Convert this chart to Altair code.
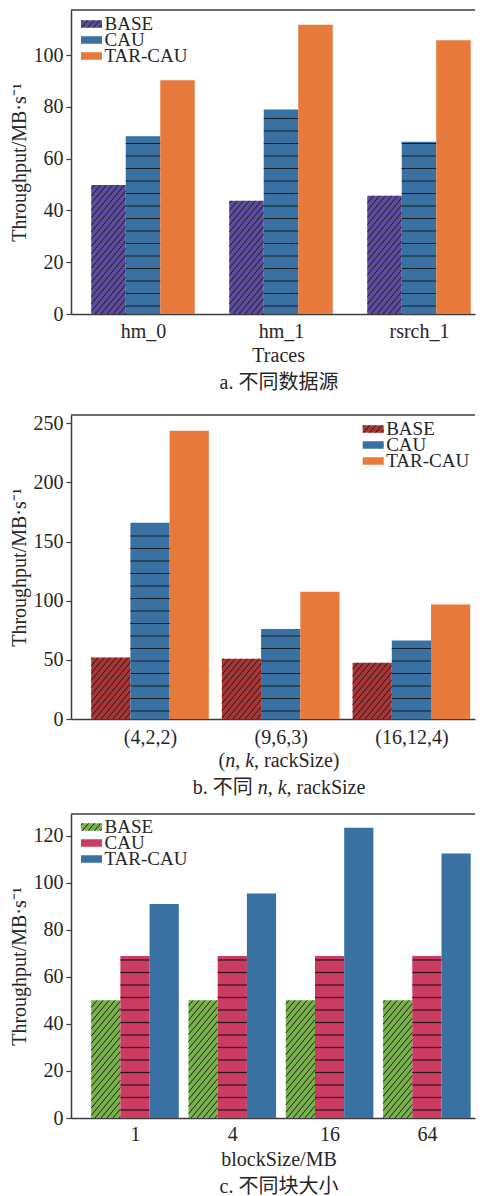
import json
import math
import altair as alt
import pandas as pd

SERIES = ["BASE", "CAU", "TAR-CAU"]

A_CATS = ["hm_0", "hm_1", "rsrch_1"]
A_BASE = [49.8, 43.7, 45.7]
A_CAU = [68.6, 79.0, 66.5]
A_TAR = [90.3, 111.7, 105.7]
A_TICKS = [0, 20, 40, 60, 80, 100]

B_CATS = ["(4,2,2)", "(9,6,3)", "(16,12,4)"]
B_BASE = [52.0, 51.0, 47.5]
B_CAU = [166.0, 76.0, 66.4]
B_TAR = [243.7, 107.5, 96.8]
B_TICKS = [0, 50, 100, 150, 200, 250]

C_CATS = ["1", "4", "16", "64"]
C_BASE = [50.0, 50.0, 50.0, 50.0]
C_CAU = [68.8, 68.8, 68.8, 68.8]
C_TAR = [91.0, 95.4, 123.4, 112.4]
C_TICKS = [0, 20, 40, 60, 80, 100, 120]

Y_TITLE = "Throughput/MB·s⁻¹"

W, H = 404, 304
FONT = "Liberation Serif, Noto Sans CJK SC, serif"
TXT = "#262626"
AXC = "#3c3c3c"
HATCH = "#141414"
SLOPE = 1.2
DIAG_SP = 6.0
HLINE_OFF = 8.0
HLINE_SP = 12.5

WID = {'(': .333, ')': .333, ',': .25, ' ': .25, '.': .25, 'a': .444, 'b': .5,
       'c': .444, 'e': .444, 'i': .278, 'k': .5, 'n': .5, 'r': .333, 's': .389,
       'z': .444, 'S': .556, 'T': .611, 'l': .278, 'o': .5, 'M': .889, 'B': .667,
       '/': .278}
WID_IT = {'n': .5, 'k': .444}


def text_width(t, ital, fs):
    w = 0.0
    for ch in t:
        if ord(ch) > 0x2e80:
            w += 1.0
        elif ital:
            w += WID_IT.get(ch, .5)
        else:
            w += WID.get(ch, .5)
    return w * fs


def diag(lpx, rpx, bot, top):
    out = []
    kmin = math.floor((lpx - top / SLOPE) / DIAG_SP) - 1
    kmax = math.ceil(rpx / DIAG_SP) + 1
    for k in range(kmin, kmax + 1):
        xc = k * DIAG_SP
        a = max(lpx, xc + bot / SLOPE)
        b = min(rpx, xc + top / SLOPE)
        if b - a > 0.4:
            out.append((a, SLOPE * (a - xc), b, SLOPE * (b - xc)))
    return out


def panel(key, cats, base, cau, tar, colors, ymax, ticks, first_px, step_px, frac,
          leg_x, leg_rows, lab_pad, xtitle, caption):
    n = len(cats)
    xa = -first_px / step_px
    xb = (W - first_px) / step_px
    ppy = H / ymax
    xs = alt.Scale(domain=[xa, xb], nice=False, zero=False)
    ys = alt.Scale(domain=[0, ymax], nice=False, zero=False)
    sf = "s_" + key

    def xd(px):
        return xa + px / step_px

    def yd(pdown):
        return (H - pdown) / ppy

    def ydu(pup):
        return pup / ppy

    vals = [base, cau, tar]
    rows = []
    for i in range(n):
        for j, s in enumerate(SERIES):
            left = i + (j - 1.5) * frac
            rows.append({"cat": cats[i], sf: s, "x": left,
                         "x2": left + frac, "y": vals[j][i], "y2": 0.0})
    bars = pd.DataFrame(rows)

    dsegs = []
    hsegs = []
    for r in rows:
        lpx = (r["x"] - xa) * step_px
        rpx = (r["x2"] - xa) * step_px
        top = r["y"] * ppy
        if r[sf] == "BASE":
            for (a, pa, b, pb) in diag(lpx, rpx, 0.0, top):
                dsegs.append({"x": xd(a), "x2": xd(b), "y": ydu(pa), "y2": ydu(pb)})
        elif r[sf] == "CAU":
            py = HLINE_OFF
            while py < top - 1.5:
                hsegs.append({"x": r["x"], "x2": r["x2"], "y": ydu(py)})
                py += HLINE_SP

    leg_rect = []
    leg_text = []
    for k, s in enumerate(SERIES):
        cy = leg_rows[k]
        lpx, rpx = leg_x, leg_x + 21
        td, bd = cy - 3.75, cy + 3.75
        leg_rect.append({sf: s, "x": xd(lpx), "x2": xd(rpx),
                         "y": yd(td), "y2": yd(bd)})
        leg_text.append({sf: s, "x": xd(leg_x + 23.5), "y": yd(cy)})
        if s == "BASE":
            for (a, pa, b, pb) in diag(lpx, rpx, H - bd, H - td):
                dsegs.append({"x": xd(a), "x2": xd(b), "y": ydu(pa), "y2": ydu(pb)})
        elif s == "CAU":
            hsegs.append({"x": xd(lpx), "x2": xd(rpx), "y": yd(cy)})

    trows = []
    for segs, ydown in ((xtitle, H + 41.5), (caption, H + 69)):
        tot = sum(text_width(t, it, 20) for t, it in segs)
        cx = 208 - tot / 2
        for t, it in segs:
            trows.append({"t": t, "it": it, "x": xd(cx), "y": yd(ydown)})
            cx += text_width(t, it, 20)
    tdf = pd.DataFrame(trows)

    xaxis = alt.Axis(values=list(range(n)),
                     labelExpr=json.dumps(cats) + "[round(datum.value)]",
                     title=None, ticks=False, tickSize=0, labelPadding=lab_pad,
                     labelBaseline="middle", labelFont=FONT, labelFontSize=20,
                     labelColor=TXT, domainColor=AXC, domainWidth=1.5,
                     grid=False, labelFlush=False, labelOverlap=False)
    yaxis = alt.Axis(values=ticks, title=Y_TITLE, titleFont=FONT, titleFontSize=20,
                     titleFontWeight="normal", titleColor=TXT, titleX=-52,
                     titleY=H / 2, titleAngle=270, titleAlign="center",
                     titleBaseline="middle", labelFont=FONT, labelFontSize=20,
                     labelColor=TXT, labelPadding=3, tickSize=5, tickColor=AXC,
                     tickWidth=1.2, domainColor=AXC, domainWidth=1.5, grid=False)
    cscale = alt.Scale(domain=SERIES, range=colors)

    def X():
        return alt.X("x:Q", scale=xs, axis=xaxis, title=None)

    def Y():
        return alt.Y("y:Q", scale=ys, axis=yaxis, title=Y_TITLE)

    layers = [
        alt.Chart(bars).mark_rect().encode(
            x=X(), x2="x2", y=Y(), y2="y2",
            color=alt.Color(sf + ":N", scale=cscale, legend=None)),
        alt.Chart(pd.DataFrame(hsegs)).mark_rule(color=HATCH, strokeWidth=1.2, opacity=0.9).encode(
            x=X(), x2="x2", y=Y()),
        alt.Chart(pd.DataFrame({"x": [xa], "x2": [xb], "y": [ymax]})).mark_rule(
            color=AXC, strokeWidth=1.5).encode(x=X(), x2="x2", y=Y()),
        alt.Chart(pd.DataFrame(leg_rect)).mark_rect().encode(
            x=X(), x2="x2", y=Y(), y2="y2",
            color=alt.Color(sf + ":N", scale=cscale, legend=None)),
        alt.Chart(pd.DataFrame(dsegs)).mark_rule(color=HATCH, strokeWidth=1.0, opacity=0.9).encode(
            x=X(), x2="x2", y=Y(), y2="y2"),
        alt.Chart(pd.DataFrame(leg_text)).mark_text(
            font=FONT, fontSize=19, align="left", baseline="middle", color=TXT).encode(
            x=X(), y=Y(), text=sf + ":N"),
    ]
    for ital in (False, True):
        sub = tdf[tdf["it"] == ital]
        if len(sub):
            layers.append(alt.Chart(sub).mark_text(
                font=FONT, fontSize=20, align="left", baseline="middle", color=TXT,
                fontStyle="italic" if ital else "normal").encode(
                x=X(), y=Y(), text="t:N"))
    return alt.layer(*layers).properties(width=W, height=H)


pa = panel("a", A_CATS, A_BASE, A_CAU, A_TAR, ["#5d4b9c", "#3a71a3", "#e7793b"],
           117.4, A_TICKS, 72, 138, 0.25, 10, [14, 30, 46], 17,
           [("Traces", False)], [("a. 不同数据源", False)])
pb = panel("b", B_CATS, B_BASE, B_CAU, B_TAR, ["#a93636", "#3a71a3", "#e7793b"],
           257, B_TICKS, 79, 130.7, 0.30, 291.7, [14, 30, 46], 18,
           [("(", False), ("n", True), (", ", False), ("k", True), (", rackSize)", False)],
           [("b. 不同 ", False), ("n", True), (", ", False), ("k", True), (", rackSize", False)])
pc = panel("c", C_CATS, C_BASE, C_CAU, C_TAR, ["#78b14a", "#cb3b62", "#3a71a3"],
           129.2, C_TICKS, 64, 97.3, 0.30, 10, [13, 29, 45], 16,
           [("blockSize/MB", False)], [("c. 不同块大小", False)])

chart = alt.vconcat(
    pa,
    alt.vconcat(pb, pc, spacing=95, bounds="flush").resolve_scale(color="independent"),
    spacing=101, bounds="flush",
).resolve_scale(color="independent").properties(
    padding={"left": 1, "top": 1, "right": 0, "bottom": 0},
    background="white",
).configure_view(stroke=None)

chart.save("out.html", embed_options={"renderer": "svg", "actions": False})
